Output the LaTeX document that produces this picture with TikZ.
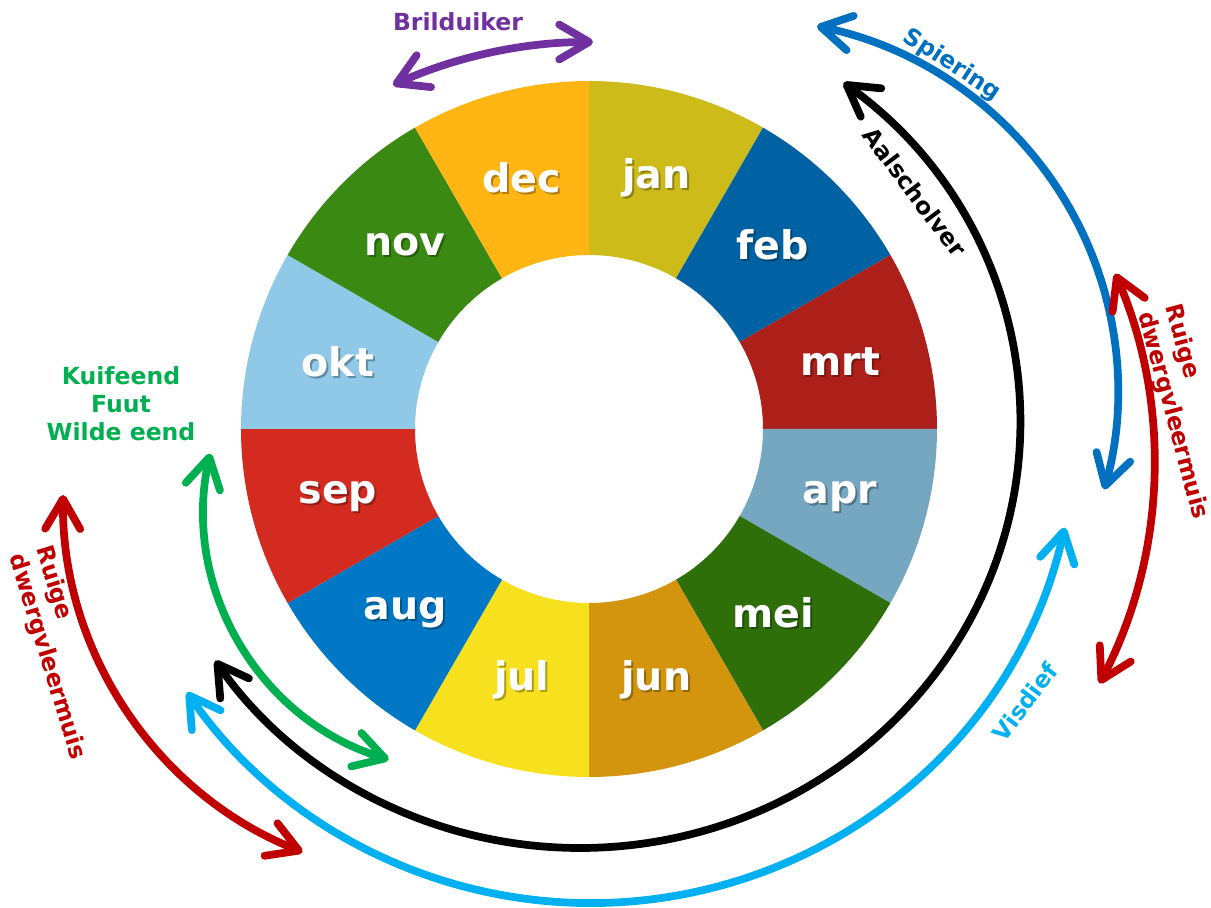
\documentclass[tikz,border=0pt]{standalone}
\usepackage{fontspec}
\setmainfont{DejaVu Sans}
\usetikzlibrary{arrows.meta}
\tikzstyle{wheel} = [x = 0.02cm, y = -0.02cm]
\definecolor{janColor}{RGB}{205,187,26}
\definecolor{febColor}{RGB}{0,98,163}
\definecolor{mrtColor}{RGB}{173,31,25}
\definecolor{aprColor}{RGB}{117,167,193}
\definecolor{meiColor}{RGB}{46,111,10}
\definecolor{junColor}{RGB}{211,149,14}
\definecolor{julColor}{RGB}{247,225,31}
\definecolor{augColor}{RGB}{1,120,197}
\definecolor{sepColor}{RGB}{211,43,31}
\definecolor{oktColor}{RGB}{143,201,231}
\definecolor{novColor}{RGB}{58,137,18}
\definecolor{decColor}{RGB}{255,182,21}
\definecolor{brilduikerColor}{RGB}{112,48,160}
\definecolor{spieringColor}{RGB}{0,112,192}
\definecolor{visdiefColor}{RGB}{0,176,240}
\definecolor{vleermuisColor}{RGB}{192,0,0}
\definecolor{eendColor}{RGB}{0,176,80}
\tikzstyle{monthText} = [text=white, font=\fontsize{22.5}{26}\selectfont\bfseries]
\tikzstyle{monthShadow} = [monthText, text=black, text opacity=0.3]
\tikzstyle{seasonArrow} = [line width=4.4pt, line cap=round, >={Straight Barb[length=0.6cm, width=0.7cm, round]}, <->]
\tikzstyle{seasonText} = [font=\fontsize{13.4}{16}\selectfont\bfseries, inner sep=0pt]
\newcommand{\innerRadius}{174}
\newcommand{\outerRadius}{348}
\newcommand{\labelRadius}{260}
\newcommand{\monthSegment}[3]{
  \pgfmathsetmacro{\startAngle}{270 + 30 * #1}
  \pgfmathsetmacro{\endAngle}{300 + 30 * #1}
  \pgfmathsetmacro{\midAngle}{285 + 30 * #1}
  \fill [#2] (\startAngle:\innerRadius) -- (\startAngle:\outerRadius) arc [start angle=\startAngle, end angle=\endAngle, radius=\outerRadius] -- (\endAngle:\innerRadius) arc [start angle=\endAngle, end angle=\startAngle, radius=\innerRadius] -- cycle;
  \node [monthShadow] at ([shift={(2,2)}]\midAngle:\labelRadius) {#3};
  \node [monthText] (#3) at (\midAngle:\labelRadius) {#3};
}
% colour, centre x, centre y, start angle, end angle, x radius, y radius
\newcommand{\seasonArc}[7]{\draw [seasonArrow, #1] ([shift={(#4:#6 and #7)}]#2,#3) arc [start angle=#4, end angle=#5, x radius=#6, y radius=#7];}

\begin{document}
\begin{tikzpicture}[wheel]
  \useasboundingbox (0,0) rectangle (1211,908);
  \fill [white] (0,0) rectangle (1211,908);

  \begin{scope}[shift={(589,429)}]
    \foreach \name/\shade [count=\i from 0] in {jan/janColor, feb/febColor, mrt/mrtColor, apr/aprColor, mei/meiColor, jun/junColor, jul/julColor, aug/augColor, sep/sepColor, okt/oktColor, nov/novColor, dec/decColor} {
      \monthSegment{\i}{\shade}{\name}
    }
  \end{scope}

  \seasonArc{brilduikerColor}{593}{528}{245.7}{270}{486}{486}
  \seasonArc{spieringColor}{738}{390}{-78}{15.5}{380}{372}
  \seasonArc{black}{580}{423}{-53.2}{146}{440}{425}
  \seasonArc{visdiefColor}{590}{425}{12.4}{146}{486}{478}
  \seasonArc{vleermuisColor}{676}{462}{-23.2}{27.6}{478}{478}
  \seasonArc{vleermuisColor}{443}{499}{180.6}{111.7}{380}{380}
  \seasonArc{eendColor}{465}{510}{192.5}{107}{261}{261}

  \node [seasonText, brilduikerColor] (brilduiker) at (458,22) {Brilduiker};
  \node [seasonText, spieringColor, rotate=-33] (spiering) at (952,65) {Spiering};
  \node [seasonText, black, rotate=-53] (aalscholver) at (915,192) {Aalscholver};
  \node [seasonText, visdiefColor, rotate=53] (visdief) at (1025,702) {Visdief};
  \node [seasonText, vleermuisColor, rotate=-75, align=left] (vleermuisRight) at (1186,412) {Ruige\\dwergvleermuis};
  \node [seasonText, vleermuisColor, rotate=-73, align=left] (vleermuisLeft) at (60,653) {Ruige\\dwergvleermuis};
  \node [seasonText, eendColor, align=center] (eenden) at (121,404) {Kuifeend\\Fuut\\Wilde eend};
\end{tikzpicture}
\end{document}
